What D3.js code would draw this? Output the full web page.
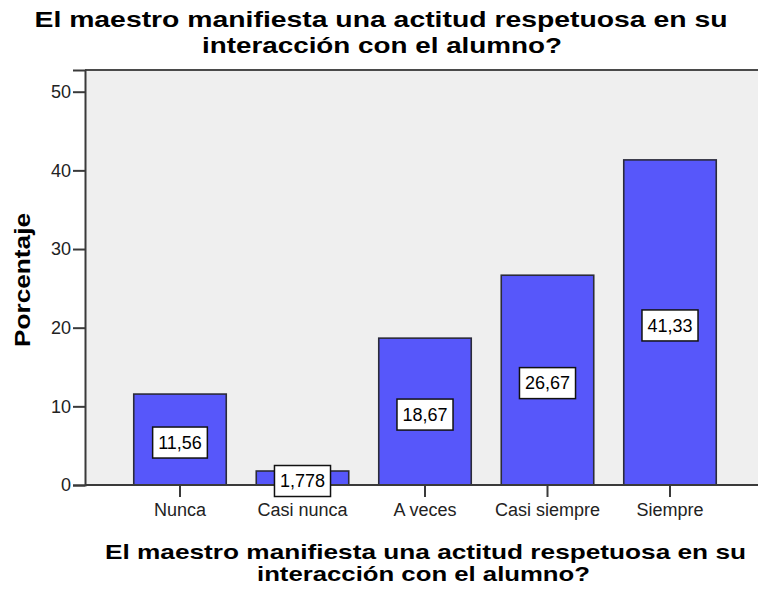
<!DOCTYPE html>
<html>
<head>
<meta charset="utf-8">
<script src="https://cdn.jsdelivr.net/npm/d3@7"></script>
<style>
  html, body { margin: 0; padding: 0; background: #ffffff; }
  svg { display: block; }
</style>
</head>
<body>
<script>
// ---- data ----
const categories = ["Nunca", "Casi nunca", "A veces", "Casi siempre", "Siempre"];
const values = [11.56, 1.778, 18.67, 26.67, 41.33];
const valueLabels = ["11,56", "1,778", "18,67", "26,67", "41,33"];
const yTicks = [0, 10, 20, 30, 40, 50];
const titleLines = ["El maestro manifiesta una actitud respetuosa en su", "interacción con el alumno?"];
const xTitleLines = ["El maestro manifiesta una actitud respetuosa en su", "interacción con el alumno?"];
const yTitle = "Porcentaje";

// ---- layout ----
const W = 758, H = 591;
const plot = { left: 85, top: 70, right: 758, bottom: 485 };
const font = "'Liberation Sans', Arial, sans-serif";

const svg = d3.select("body").append("svg").attr("width", W).attr("height", H);

const x = d3.scaleBand().domain(categories).range([85, 765])
  .paddingInner(0.245).paddingOuter(0.398);
const y = d3.scaleLinear().domain([0, 52.76]).range([plot.bottom, plot.top]);

// plot background
svg.append("rect")
  .attr("x", plot.left).attr("y", plot.top)
  .attr("width", plot.right - plot.left).attr("height", plot.bottom - plot.top)
  .attr("fill", "#efefef");

// bars
svg.append("g").selectAll("rect").data(values).join("rect")
  .attr("x", (d, i) => x(categories[i]))
  .attr("y", d => y(d))
  .attr("width", x.bandwidth())
  .attr("height", d => y(0) - y(d))
  .attr("fill", "#5757fa")
  .attr("stroke", "#2b2b3a")
  .attr("stroke-width", 1.6);

// top frame line
svg.append("line")
  .attr("x1", plot.left).attr("x2", plot.right)
  .attr("y1", plot.top).attr("y2", plot.top)
  .attr("stroke", "#4a4a4a").attr("stroke-width", 2);

// y axis
const yAxis = d3.axisLeft(y).tickValues(yTicks).tickSize(12).tickPadding(2).tickFormat(d3.format("d"));
const gy = svg.append("g").attr("transform", `translate(${plot.left},0)`).call(yAxis);
gy.select(".domain").attr("stroke", "#3a3a3a").attr("stroke-width", 2);
gy.selectAll(".tick line").attr("stroke", "#3a3a3a").attr("stroke-width", 2);
gy.selectAll(".tick text").attr("font-family", font).attr("font-size", "18px").attr("fill", "#222");

// x axis
const xAxis = d3.axisBottom(x).tickSize(12).tickPadding(6);
const gx = svg.append("g").attr("transform", `translate(0,${plot.bottom})`).call(xAxis);
gx.select(".domain").remove();
gx.append("line").attr("x1", plot.left).attr("x2", plot.right).attr("y1", 0).attr("y2", 0)
  .attr("stroke", "#3a3a3a").attr("stroke-width", 2);
gx.selectAll(".tick line").attr("stroke", "#3a3a3a").attr("stroke-width", 2);
gx.selectAll(".tick text").attr("font-family", font).attr("font-size", "18px").attr("fill", "#222");

// data labels
const lbl = svg.append("g").selectAll("g").data(values).join("g")
  .attr("transform", (d, i) => `translate(${x(categories[i]) + x.bandwidth() / 2},${(y(d) + y(0)) / 2 + 3})`);
lbl.append("text")
  .attr("text-anchor", "middle").attr("dy", "0.35em")
  .attr("font-family", font).attr("font-size", "18px").attr("fill", "#000")
  .text((d, i) => valueLabels[i]);
lbl.each(function () {
  const g = d3.select(this);
  const bb = g.select("text").node().getBBox();
  g.insert("rect", "text")
    .attr("x", bb.x - 5.5).attr("y", -15.5)
    .attr("width", bb.width + 11).attr("height", 31)
    .attr("fill", "#fff").attr("stroke", "#111").attr("stroke-width", 1.5);
});

// title
const titleSpec = [{ t: titleLines[0], cx: 381, y: 27, w: 693 }, { t: titleLines[1], cx: 382, y: 53, w: 360 }];
titleSpec.forEach(s => {
  svg.append("text").attr("x", s.cx).attr("y", s.y).attr("text-anchor", "middle")
    .attr("font-family", font).attr("font-weight", "bold").attr("font-size", "22px")
    .attr("textLength", s.w).attr("lengthAdjust", "spacingAndGlyphs")
    .text(s.t);
});

// x title
const xSpec = [{ t: xTitleLines[0], cx: 425.5, y: 559, w: 641 }, { t: xTitleLines[1], cx: 423.5, y: 581, w: 333 }];
xSpec.forEach(s => {
  svg.append("text").attr("x", s.cx).attr("y", s.y).attr("text-anchor", "middle")
    .attr("font-family", font).attr("font-weight", "bold").attr("font-size", "21px")
    .attr("textLength", s.w).attr("lengthAdjust", "spacingAndGlyphs")
    .text(s.t);
});

// y title
svg.append("text")
  .attr("transform", "translate(30,280) rotate(-90)")
  .attr("text-anchor", "middle")
  .attr("font-family", font).attr("font-weight", "bold").attr("font-size", "22px")
  .attr("textLength", 134).attr("lengthAdjust", "spacingAndGlyphs")
  .text(yTitle);
</script>
</body>
</html>
